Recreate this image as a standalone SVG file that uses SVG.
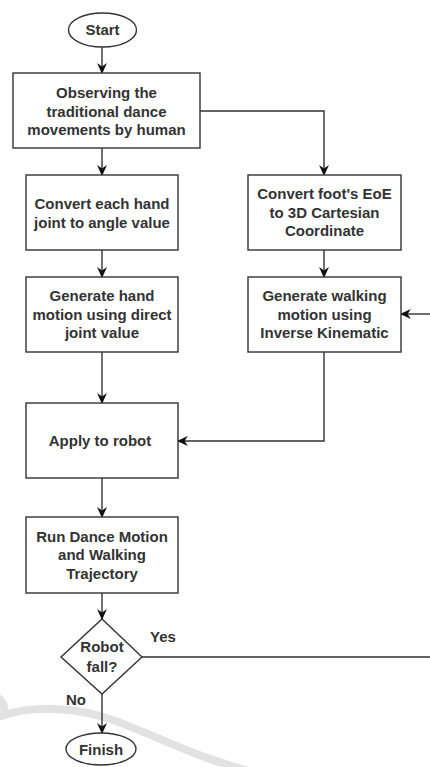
<svg xmlns="http://www.w3.org/2000/svg" width="430" height="767" viewBox="0 0 430 767">
<defs>
<style>
.box{fill:#fff;stroke:#333;stroke-width:1.4}
.t{font-family:"Liberation Sans",Arial,sans-serif;font-size:15px;font-weight:bold;fill:#333;text-anchor:middle}
.lbl{font-family:"Liberation Sans",Arial,sans-serif;font-size:15px;font-weight:bold;fill:#333}
.c{fill:none;stroke:#333;stroke-width:1.4}
</style>
<marker id="arr" markerUnits="userSpaceOnUse" markerWidth="11" markerHeight="11" viewBox="0 0 10 10" refX="9" refY="5" orient="auto">
<path d="M0,0.5 L10,5 L0,9.5 L3,5 z" fill="#111"/>
</marker>
</defs>
<rect width="430" height="767" fill="#fff"/>
<g id="watermark" fill="none" stroke="#e2e2e2" stroke-width="8" stroke-linecap="round">
<path d="M2,716 C25,707 62,706 100,716 C140,727 180,752 245,770"/>
<path d="M-2,698 Q6,704 4,714"/>
</g>
<g id="connectors">
<line class="c" x1="102" y1="47" x2="102" y2="73" marker-end="url(#arr)"/>
<line class="c" x1="102" y1="148" x2="102" y2="175" marker-end="url(#arr)"/>
<polyline class="c" points="200,111 324,111 324,175" marker-end="url(#arr)"/>
<line class="c" x1="102" y1="250" x2="102" y2="277" marker-end="url(#arr)"/>
<line class="c" x1="324" y1="250" x2="324" y2="277" marker-end="url(#arr)"/>
<line class="c" x1="102" y1="352" x2="102" y2="403" marker-end="url(#arr)"/>
<polyline class="c" points="324,352 324,441 178,441" marker-end="url(#arr)"/>
<line class="c" x1="102" y1="478" x2="102" y2="517" marker-end="url(#arr)"/>
<line class="c" x1="102" y1="593" x2="102" y2="619" marker-end="url(#arr)"/>
<line class="c" x1="142" y1="657" x2="432" y2="657"/>
<line class="c" x1="432" y1="314" x2="401" y2="314" marker-end="url(#arr)"/>
<line class="c" x1="102" y1="694" x2="102" y2="733" marker-end="url(#arr)"/>
<text class="lbl" x="150" y="642">Yes</text>
<text class="lbl" x="66" y="705">No</text>
</g>
<g id="start">
<ellipse class="box" cx="102.5" cy="30" rx="34" ry="17"/>
<text class="t" x="102.5" y="35">Start</text>
</g>
<g id="observe">
<rect class="box" x="13" y="73" width="187" height="75"/>
<text class="t" x="106.5" y="98">Observing the</text>
<text class="t" x="106.5" y="116.5">traditional dance</text>
<text class="t" x="106.5" y="135">movements by human</text>
</g>
<g id="convertHand">
<rect class="box" x="26" y="175" width="152" height="75"/>
<text class="t" x="102" y="208.5">Convert each hand</text>
<text class="t" x="102" y="227.5">joint to angle value</text>
</g>
<g id="genHand">
<rect class="box" x="26" y="277" width="152" height="75"/>
<text class="t" x="102" y="301">Generate hand</text>
<text class="t" x="102" y="319.5">motion using direct</text>
<text class="t" x="102" y="338">joint value</text>
</g>
<g id="convertFoot">
<rect class="box" x="248" y="175" width="153" height="75"/>
<text class="t" x="324.5" y="199">Convert foot's EoE</text>
<text class="t" x="324.5" y="217.5">to 3D Cartesian</text>
<text class="t" x="324.5" y="236">Coordinate</text>
</g>
<g id="genWalk">
<rect class="box" x="248" y="277" width="153" height="75"/>
<text class="t" x="324.5" y="301">Generate walking</text>
<text class="t" x="324.5" y="319.5">motion using</text>
<text class="t" x="324.5" y="338">Inverse Kinematic</text>
</g>
<g id="apply">
<rect class="box" x="26" y="403" width="152" height="75"/>
<text class="t" x="100" y="446">Apply to robot</text>
</g>
<g id="run">
<rect class="box" x="26" y="517" width="152" height="76"/>
<text class="t" x="102" y="541.5">Run Dance Motion</text>
<text class="t" x="102" y="560">and Walking</text>
<text class="t" x="102" y="578.5">Trajectory</text>
</g>
<g id="fall">
<polygon class="box" points="102,619 142,657 102,694 61,657"/>
<text class="t" x="102" y="652">Robot</text>
<text class="t" x="102" y="672">fall?</text>
</g>
<g id="finish">
<ellipse class="box" cx="101" cy="749" rx="35" ry="16"/>
<text class="t" x="101" y="755">Finish</text>
</g>
</svg>
